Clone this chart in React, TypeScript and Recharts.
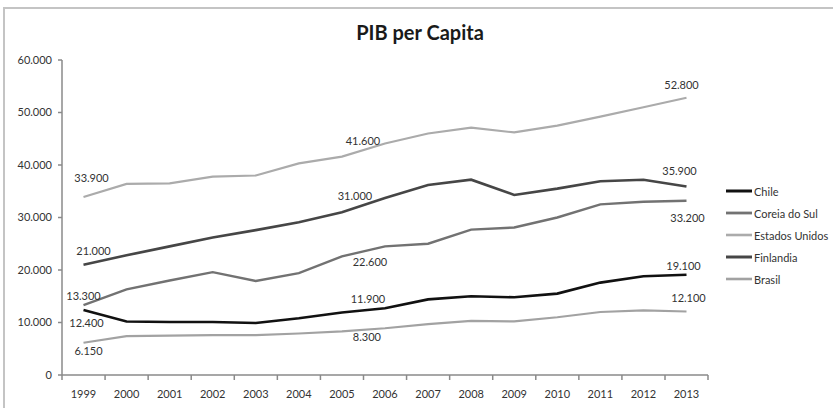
import { LabelList, Line, LineChart, XAxis, YAxis } from "recharts";

const years = ["1999", "2000", "2001", "2002", "2003", "2004", "2005", "2006", "2007", "2008", "2009", "2010", "2011", "2012", "2013"];

const chile = [12400, 10200, 10100, 10100, 9900, 10800, 11900, 12700, 14400, 15000, 14800, 15500, 17600, 18800, 19100];
const coreia = [13300, 16300, 18000, 19600, 17900, 19400, 22600, 24500, 25000, 27700, 28100, 30000, 32500, 33000, 33200];
const eua = [33900, 36400, 36500, 37800, 38000, 40300, 41600, 44100, 46000, 47100, 46200, 47500, 49200, 51000, 52800];
const finlandia = [21000, 22800, 24500, 26200, 27600, 29100, 31000, 33700, 36200, 37200, 34300, 35500, 36900, 37200, 35900];
const brasil = [6150, 7400, 7500, 7600, 7600, 7900, 8300, 8900, 9700, 10300, 10200, 11000, 12000, 12300, 12100];

const yTicks = [0, 10000, 20000, 30000, 40000, 50000, 60000];
const labelledIdx = [0, 6, 14];

const data = years.map((year, i) => ({
    year,
    chile: chile[i],
    coreia: coreia[i],
    eua: eua[i],
    finlandia: finlandia[i],
    brasil: brasil[i],
}));

// label offsets (dx, dy) for 1999 / 2005 / 2013
const series = [
    { key: "chile", name: "Chile", color: "#111111", width: 2.6, offsets: [[3, 13], [26, -13], [-3, -9]] },
    { key: "coreia", name: "Coreia do Sul", color: "#727272", width: 2.4, offsets: [[0, -9], [28, 6], [1, 17]] },
    { key: "eua", name: "Estados Unidos", color: "#ababab", width: 2.2, offsets: [[8, -19], [21, -15], [-5, -13]] },
    { key: "finlandia", name: "Finlandia", color: "#464646", width: 2.6, offsets: [[10, -14], [13, -16], [-7, -15]] },
    { key: "brasil", name: "Brasil", color: "#a2a2a2", width: 2.2, offsets: [[5, 8], [25, 6], [2, -13]] },
];

const FONT = "Lato, 'Open Sans', sans-serif";
const HALF_STEP = 21.5;
const TICK_GAP = 15;

const fmt = (v: number) => String(v).replace(/\B(?=(\d{3})+(?!\d))/g, ".");

function YearTick(props: any) {
    const { x, y, payload, index } = props;
    const axisY = y - TICK_GAP;
    return (
        <g>
            <line x1={x - HALF_STEP} x2={x - HALF_STEP} y1={axisY} y2={axisY + 5} stroke="#8a8a8a" strokeWidth={1.5} />
            {index === years.length - 1 && (
                <line x1={x + HALF_STEP} x2={x + HALF_STEP} y1={axisY} y2={axisY + 5} stroke="#8a8a8a" strokeWidth={1.5} />
            )}
            <text x={x} y={y} dy="0.71em" textAnchor="middle" fontSize={11} fill="#333" fontFamily={FONT}>
                {payload.value}
            </text>
        </g>
    );
}

function makeLabel(offsets: number[][]) {
    return (props: any) => {
        const { x, y, value, index } = props;
        const k = labelledIdx.indexOf(index);
        if (k < 0) return null;
        const [dx, dy] = offsets[k];
        return (
            <text x={x + dx} y={y + dy} dy="0.35em" textAnchor="middle" fontSize={11} fill="#333" fontFamily={FONT}>
                {fmt(value)}
            </text>
        );
    };
}

export default function App() {
    return (
        <div style={{ position: "absolute", left: 0, top: 0, width: 833, height: 408, overflow: "hidden", background: "#fff" }}>
            <div
                style={{
                    position: "absolute",
                    left: 3,
                    top: 7,
                    width: 860,
                    height: 430,
                    borderTop: "2px solid #c4c4c4",
                    borderLeft: "2px solid #c4c4c4",
                }}
            />
            <div
                style={{
                    position: "absolute",
                    left: 0,
                    width: 840,
                    top: 20,
                    textAlign: "center",
                    fontFamily: FONT,
                    fontWeight: 700,
                    fontSize: 20,
                    color: "#1a1a1a",
                }}
            >
                PIB per Capita
            </div>
            <div style={{ position: "absolute", left: 0, top: 0 }}>
                <LineChart width={833} height={408} data={data} margin={{ top: 60, right: 125, left: 0, bottom: 0 }}>
                    <XAxis
                        dataKey="year"
                        height={33}
                        padding={{ left: HALF_STEP, right: HALF_STEP }}
                        tickSize={0}
                        tickMargin={TICK_GAP}
                        interval={0}
                        tick={<YearTick />}
                        axisLine={{ stroke: "#8a8a8a", strokeWidth: 1.5 }}
                    />
                    <YAxis
                        width={62}
                        domain={[0, 60000]}
                        ticks={yTicks}
                        tickFormatter={fmt}
                        tickSize={4}
                        tickMargin={6}
                        axisLine={{ stroke: "#8a8a8a", strokeWidth: 1.5 }}
                        tickLine={{ stroke: "#8a8a8a", strokeWidth: 1.5 }}
                        tick={{ fontSize: 11, fill: "#333", fontFamily: FONT }}
                    />
                    {series.map((s) => (
                        <Line
                            key={s.key}
                            type="linear"
                            dataKey={s.key}
                            name={s.name}
                            stroke={s.color}
                            strokeWidth={s.width}
                            dot={false}
                            activeDot={false}
                            isAnimationActive={false}
                        >
                            <LabelList dataKey={s.key} content={makeLabel(s.offsets)} />
                        </Line>
                    ))}
                </LineChart>
            </div>
            <div style={{ position: "absolute", left: 726, top: 180, fontFamily: FONT, fontSize: 11, color: "#333" }}>
                {series.map((s) => (
                    <div key={s.key} style={{ display: "flex", alignItems: "center", height: 22 }}>
                        <svg width={26} height={6} style={{ marginRight: 2 }}>
                            <line x1={0} x2={26} y1={3} y2={3} stroke={s.color} strokeWidth={s.width + 0.4} />
                        </svg>
                        <span>{s.name}</span>
                    </div>
                ))}
            </div>
        </div>
    );
}
